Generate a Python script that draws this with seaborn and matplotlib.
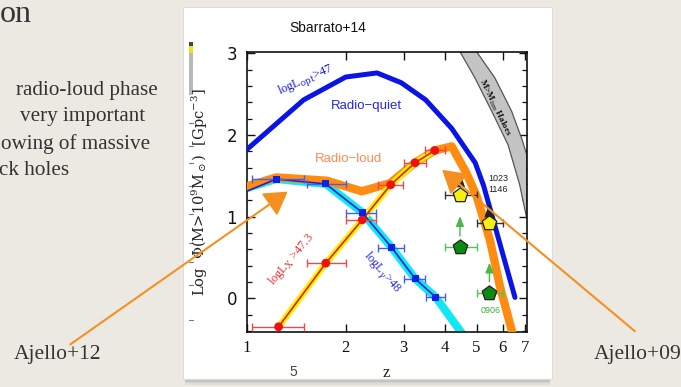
import numpy as np
import pandas as pd
import matplotlib
matplotlib.use("Agg")
import matplotlib.pyplot as plt
import seaborn as sns
from matplotlib.patches import Rectangle, FancyArrowPatch
from matplotlib.ticker import MultipleLocator, NullLocator, FixedLocator

# ---------------- data ----------------
# Radio-quiet (log L_opt > 47)
rq_z = [1.0, 1.49, 2.0, 2.49, 2.95, 3.5, 4.2, 4.95, 5.25, 6.54]
rq_logphi = [1.82, 2.43, 2.71, 2.76, 2.64, 2.43, 2.08, 1.66, 1.38, 0.01]

# Radio-loud total
rl_z = [1.0, 1.23, 1.75, 2.24, 2.73, 3.25, 3.73, 4.2, 4.66, 5.0, 5.49, 5.89, 6.45]
rl_logphi = [1.37, 1.48, 1.44, 1.31, 1.41, 1.66, 1.81, 1.86, 1.53, 1.25, 0.71, 0.14, -0.45]

# X-ray selected (log L_X > 47.3)
x_z = [1.25, 1.74, 2.245, 2.74, 3.25, 3.73]
x_logphi = [-0.35, 0.43, 0.96, 1.39, 1.66, 1.81]
x_zlo = [1.035, 1.52, 2.0, 2.51, 3.0, 3.49]
x_zhi = [1.49, 2.0, 2.48, 2.99, 3.52, 4.0]

# Gamma-ray selected (log L_gamma > 48)
g_z = [1.23, 1.74, 2.245, 2.76, 3.25, 3.76]
g_logphi = [1.46, 1.40, 1.05, 0.62, 0.24, 0.01]
g_zlo = [1.035, 1.52, 2.0, 2.51, 3.0, 3.52]
g_zhi = [1.49, 2.0, 2.48, 3.0, 3.48, 4.0]
g_band_z = [1.0] + g_z + [4.55]
g_band_logphi = [1.35] + g_logphi + [-0.45]
g_line_z = [1.0] + g_z
g_line_logphi = [1.31] + g_logphi

# High-z blazars (lower limits)
yb_z = [4.45, 5.47]
yb_logphi = [1.27, 0.92]
yb_zlo = [4.0, 5.0]
yb_zhi = [5.0, 6.0]
yb_limit = [1.57, 1.20]

gb_z = [4.45, 5.47]
gb_logphi = [0.63, 0.07]
gb_zlo = [4.0, 5.0]
gb_zhi = [5.0, 6.0]
gb_limit = [1.04, 0.47]

# Halo mass limit band
halo_lo_z = [4.45, 4.94, 5.56, 6.23, 6.76, 7.1]
halo_lo_logphi = [3.02, 2.70, 2.29, 1.88, 1.39, 0.98]
halo_hi_z = [5.0, 5.68, 6.39, 6.85, 7.1]
halo_hi_logphi = [3.02, 2.70, 2.29, 1.96, 1.76]

x_ticks = [1, 2, 3, 4, 5, 6, 7]
y_ticks = [0, 1, 2, 3]

bullet_lines = ["radio-loud phase", "very important", "owing of massive", "ck holes"]

# ---------------- styling ----------------
sns.set_theme(style="ticks")
plt.rcParams["font.family"] = ["Liberation Sans", "DejaVu Sans"]
plt.rcParams["mathtext.fontset"] = "dejavuserif"

W, H = 681, 387
fig = plt.figure(figsize=(W / 100, H / 100), dpi=100)
fig.patch.set_facecolor("#ECE9E3")


def fx(x):
    return x / W


def fy(y):
    return 1 - y / H


# white panel holding the figure, with a soft shadow beneath it
for k, a in enumerate([0.45, 0.30, 0.18, 0.09]):
    fig.patches.append(Rectangle((fx(185), fy(380 + k * 1.6)), fx(550) - fx(185), 1.6 / H,
                                 transform=fig.transFigure, facecolor="#6f6f6f", alpha=a,
                                 edgecolor="none", zorder=0.5))
fig.patches.append(Rectangle((fx(183), fy(379)), fx(552) - fx(183), fy(7) - fy(379),
                             transform=fig.transFigure, facecolor="white",
                             edgecolor="#d8d8d8", linewidth=0.6, zorder=1))
# leftover colour strip at the panel edge
fig.patches.append(Rectangle((fx(189), fy(95)), fx(4), fy(42) - fy(95),
                             transform=fig.transFigure, facecolor="#b8b8b8",
                             edgecolor="none", zorder=1.2))
fig.patches.append(Rectangle((fx(189), fy(53)), fx(4), fy(46) - fy(53),
                             transform=fig.transFigure, facecolor="#f0e020",
                             edgecolor="none", zorder=1.3))
fig.patches.append(Rectangle((fx(189), fy(46)), fx(4), fy(42) - fy(46),
                             transform=fig.transFigure, facecolor="#444444",
                             edgecolor="none", zorder=1.3))
for yy in [123, 146, 163, 186, 214, 243, 262, 285, 320]:
    fig.lines.append(plt.Line2D([fx(189), fx(193)], [fy(yy), fy(yy)],
                                transform=fig.transFigure, color="#777777",
                                linewidth=0.8, zorder=1.3))

ax = fig.add_axes([fx(246.7), fy(331.7), fx(526.7) - fx(246.7), fy(51.7) - fy(331.7)])
ax.set_zorder(2)
ax.set_facecolor("white")
ax.set_xscale("log")
ax.set_xlim(1.0, 7.1)
ax.set_ylim(-0.41, 3.02)

# halo band
band_x = halo_lo_z + halo_hi_z[::-1]
band_y = halo_lo_logphi + halo_hi_logphi[::-1]
ax.fill(band_x, band_y, facecolor="#c4c4c4", edgecolor="#555555", linewidth=0.9, zorder=1)

# radio-quiet
sns.lineplot(x=rq_z, y=rq_logphi, sort=False, estimator=None, color="#0a14e6",
             linewidth=3.6, ax=ax, zorder=3)
# gamma band + line
sns.lineplot(x=g_band_z, y=g_band_logphi, sort=False, estimator=None, color="#10e8f4",
             linewidth=5.8, ax=ax, zorder=2)
# radio-loud total
sns.lineplot(x=rl_z, y=rl_logphi, sort=False, estimator=None, color="#ff8c10",
             linewidth=6.0, ax=ax, zorder=3)
# X-ray band + line
sns.lineplot(x=x_z, y=x_logphi, sort=False, estimator=None, color="#fff200",
             linewidth=4.6, ax=ax, zorder=4)
sns.lineplot(x=x_z, y=x_logphi, sort=False, estimator=None, color="#e0201a",
             linewidth=1.2, ax=ax, zorder=5)
sns.lineplot(x=g_line_z, y=g_line_logphi, sort=False, estimator=None, color="#2020d0",
             linewidth=1.2, ax=ax, zorder=5)

# error bars
xz = np.array(x_z)
ax.errorbar(x_z, x_logphi, xerr=[xz - np.array(x_zlo), np.array(x_zhi) - xz], fmt="none",
            ecolor="#f04848", elinewidth=1.0, capsize=3, capthick=1.0, zorder=6)
gz = np.array(g_z)
ax.errorbar(g_z, g_logphi, xerr=[gz - np.array(g_zlo), np.array(g_zhi) - gz], fmt="none",
            ecolor="#4a5cf0", elinewidth=1.0, capsize=3, capthick=1.0, zorder=6)
sns.scatterplot(x=x_z, y=x_logphi, color="#f01010", s=40, edgecolor="none", ax=ax, zorder=7)
sns.scatterplot(x=g_z, y=g_logphi, color="#1020e0", marker="s", s=26, edgecolor="none",
                ax=ax, zorder=7)

# high-z limits
yz = np.array(yb_z)
ax.errorbar(yb_z, yb_logphi, xerr=[yz - np.array(yb_zlo), np.array(yb_zhi) - yz], fmt="none",
            ecolor="#333333", elinewidth=1.0, capsize=3, zorder=6)
gbz = np.array(gb_z)
ax.errorbar(gb_z, gb_logphi, xerr=[gbz - np.array(gb_zlo), np.array(gb_zhi) - gbz], fmt="none",
            ecolor="#58c058", elinewidth=1.0, capsize=3, zorder=6)
for zz, y0, y1 in zip(yb_z, yb_logphi, yb_limit):
    ax.annotate("", xy=(zz, y1), xytext=(zz, y0 + 0.1),
                arrowprops=dict(arrowstyle="-|>,head_length=0.7,head_width=0.25",
                                color="#222222", lw=1.0), zorder=6)
for zz, y0, y1 in zip(gb_z, gb_logphi, gb_limit):
    ax.annotate("", xy=(zz, y1), xytext=(zz, y0 + 0.1),
                arrowprops=dict(arrowstyle="-|>,head_length=0.5,head_width=0.2",
                                color="#48b848", lw=1.0), zorder=6)
sns.scatterplot(x=yb_z, y=yb_logphi, color="#f8ee10", marker="p", s=120,
                edgecolor="#222222", linewidth=0.9, ax=ax, zorder=8)
sns.scatterplot(x=gb_z, y=gb_logphi, color="#0a8a10", marker="p", s=120,
                edgecolor="#222222", linewidth=0.9, ax=ax, zorder=8)

# labels inside the plot
ax.text(1.515, 2.675, r"logL$_{\rm opt}$>47", color="#1a1ae6", fontsize=9, rotation=24,
        ha="center", va="center", family="Liberation Serif", zorder=9)
ax.text(2.32, 2.355, "Radio\u2212quiet", color="#2525e8", fontsize=9.5, ha="center",
        va="center", zorder=9)
ax.text(2.045, 1.707, "Radio\u2212loud", color="#ff8a50", fontsize=9.5, ha="center",
        va="center", zorder=9)
ax.text(1.363, 0.47, r"logL$_{\rm X}$ >47.3", color="#f03030", fontsize=9, rotation=50,
        ha="center", va="center", family="Liberation Serif", zorder=9)
ax.text(2.58, 0.32, r"logL$_\gamma$>48", color="#2a2ae6", fontsize=9, rotation=-49,
        ha="center", va="center", family="Liberation Serif", zorder=9)
ax.text(5.81, 1.47, "1023", color="#222222", fontsize=6.5, ha="center", va="center", zorder=9)
ax.text(5.81, 1.335, "1146", color="#222222", fontsize=6.5, ha="center", va="center", zorder=9)
ax.text(5.51, -0.15, "0906", color="#40b040", fontsize=6.5, ha="center", va="center", zorder=9)
ax.text(5.69, 2.34, r"M>M$_{\rm lim}$ Haloes", color="#111111", fontsize=6.5, rotation=-64,
        ha="center", va="center", family="Liberation Serif", fontweight="bold", zorder=9)

# axes, ticks
ax.xaxis.set_major_locator(FixedLocator(x_ticks))
ax.xaxis.set_minor_locator(NullLocator())
ax.set_xticklabels([str(t) for t in x_ticks], family="Liberation Serif", fontsize=12)
ax.yaxis.set_major_locator(FixedLocator(y_ticks))
ax.yaxis.set_minor_locator(MultipleLocator(0.2))
ax.set_yticklabels([str(t) for t in y_ticks], fontsize=12, family="DejaVu Sans")
ax.tick_params(axis="both", which="major", direction="in", length=6, width=1.0,
               top=True, right=True, colors="#111111")
ax.tick_params(axis="y", which="minor", direction="in", length=3.5, width=0.9,
               left=True, right=True, color="#111111")
ax.tick_params(axis="x", which="major", pad=6)
ax.tick_params(axis="y", which="major", pad=7)
for sp in ax.spines.values():
    sp.set_color("#111111")
    sp.set_linewidth(1.2)
ax.set_xlabel("z", family="Liberation Serif", fontsize=12, labelpad=0, color="#222222")
ax.set_ylabel(r"Log  $\Phi$(M>10$^9$M$_\odot$)  [Gpc$^{-3}$]", fontsize=10.5,
              family="DejaVu Serif", color="#222222", labelpad=4)
ax.yaxis.set_label_coords((210 - 246.7) / (526.7 - 246.7), (331.7 - 192.5) / 280)
ax.xaxis.set_label_coords((386.7 - 246.7) / 280, -(365 - 331.7) / 280)

# panel captions
fig.text(fx(328), fy(28), "Sbarrato+14", fontsize=10, ha="center", va="center",
         color="#111111", zorder=3)
fig.text(fx(293), fy(372), "5", fontsize=10, ha="center", va="center", color="#444444",
         zorder=3)

# slide text
slide_color = "#333333"
fig.text(fx(0), fy(15), "on", fontsize=23, family="Liberation Serif", ha="left",
         va="center", color=slide_color)
for (xx, yy), line in zip([(16, 90), (20, 117), (1, 144), (-1, 170)], bullet_lines):
    fig.text(fx(xx), fy(yy), line, fontsize=15.2, family="Liberation Serif", ha="left",
             va="center", color=slide_color)
fig.text(fx(58), fy(355), "Ajello+12", fontsize=15.5, family="Liberation Serif",
         ha="center", va="center", color=slide_color)
fig.text(fx(638), fy(355), "Ajello+09", fontsize=15.5, family="Liberation Serif",
         ha="center", va="center", color=slide_color)

# pointer arrows
for (x0, y0), (x1, y1) in [((68, 346), (290, 190)), ((637, 333), (440, 168))]:
    fig.patches.append(FancyArrowPatch((fx(x0), fy(y0)), (fx(x1), fy(y1)),
                                       transform=fig.transFigure,
                                       arrowstyle="-|>,head_length=1.0,head_width=0.6",
                                       mutation_scale=14, color="#f59020", linewidth=1.5,
                                       zorder=5))

fig.savefig("out.png", dpi=100, facecolor=fig.get_facecolor())
